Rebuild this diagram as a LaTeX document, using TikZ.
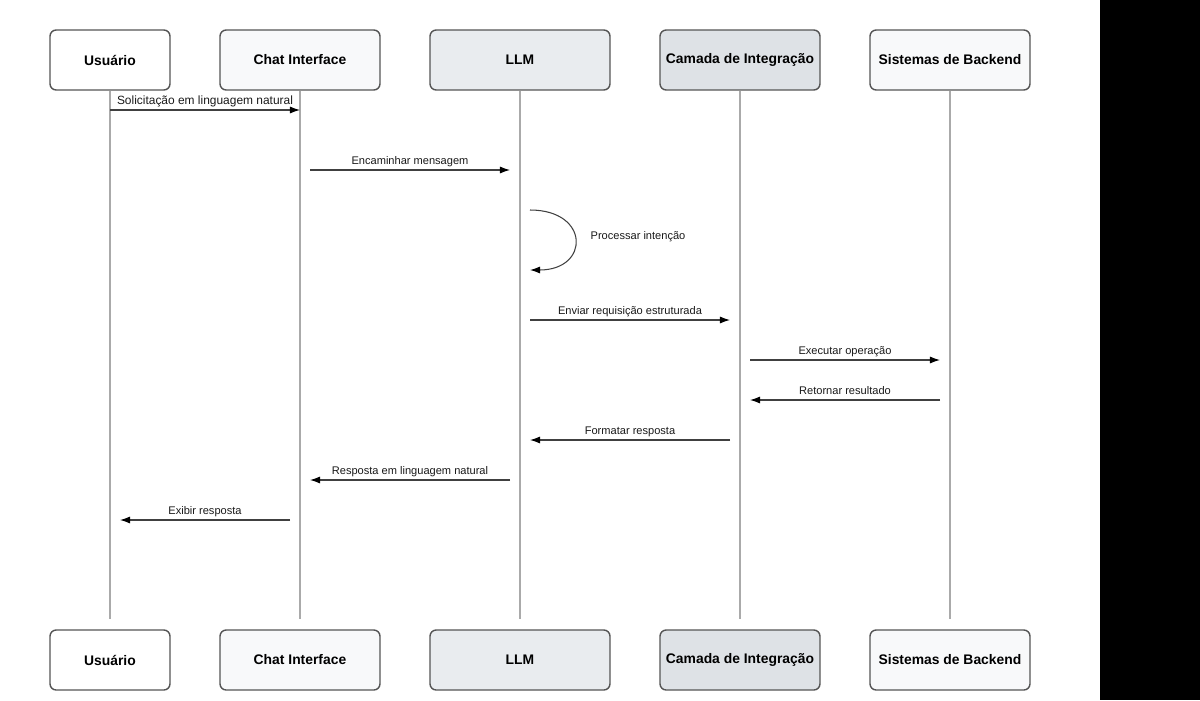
\documentclass[tikz,border=0pt]{standalone}
\usepackage{fontspec}
\setmainfont{Liberation Sans}
\usetikzlibrary{arrows.meta,calc}

\definecolor{boxA}{HTML}{F8F9FA}
\definecolor{boxB}{HTML}{E9ECEF}
\definecolor{boxC}{HTML}{DEE2E6}
\definecolor{edge}{HTML}{555555}
\definecolor{lifegray}{HTML}{AAAAAA}

\tikzset{
  actor/.style={draw=edge, line width=0.8pt, rounded corners=3.5pt,
    minimum height=1.2cm, font=\bfseries\fontsize{7.9}{9}\selectfont},
  life/.style={draw=lifegray, line width=0.8pt, shorten >=5.7pt},
  msg/.style={draw=black!75, line width=0.6pt, -{Latex[length=5.7pt,width=4pt,color=black]}},
  lbl/.style={font=\fontsize{6.3}{7}\selectfont, above, inner sep=1.3pt, text depth=1.4pt, text=black!90}
}

\begin{document}
\begin{tikzpicture}[x=0.02cm, y=-0.02cm]
  \useasboundingbox (0,0) rectangle (1200,700);
  \fill[black] (1100,0) rectangle (1200,700);

  % participants (top)
  \node[actor, minimum width=2.4cm, fill=white] (usr) at (110,60) {Usuário};
  \node[actor, minimum width=3.2cm, fill=boxA] (chat) at (300,60) {Chat Interface};
  \node[actor, minimum width=3.6cm, fill=boxB] (llm) at (520,60) {LLM};
  \node[actor, minimum width=3.2cm, fill=boxC] (integ) at (740,60) {Camada de Integração};
  \node[actor, minimum width=3.2cm, fill=boxA] (back) at (950,60) {Sistemas de Backend};

  % participants (bottom)
  \node[actor, minimum width=2.4cm, fill=white] (usrB) at (110,660) {Usuário};
  \node[actor, minimum width=3.2cm, fill=boxA] (chatB) at (300,660) {Chat Interface};
  \node[actor, minimum width=3.6cm, fill=boxB] (llmB) at (520,660) {LLM};
  \node[actor, minimum width=3.2cm, fill=boxC] (integB) at (740,660) {Camada de Integração};
  \node[actor, minimum width=3.2cm, fill=boxA] (backB) at (950,660) {Sistemas de Backend};

  % lifelines
  \draw[life] (usr) -- (usrB);
  \draw[life] (chat) -- (chatB);
  \draw[life] (llm) -- (llmB);
  \draw[life] (integ) -- (integB);
  \draw[life] (back) -- (backB);

  % messages
  \draw[msg] (usr.south |- 0,110) -- node[lbl, font=\fontsize{6.8}{8}\selectfont] {Solicitação em linguagem natural} (chat.south |- 0,110);
  \draw[msg] ($(chat.south |- 0,170)+(10,0)$) -- node[lbl] {Encaminhar mensagem} ($(llm.south |- 0,170)+(-10,0)$);

  \draw[msg] ($(llm.south |- 0,210)+(10,0)$) .. controls (590,210) and (590,270) .. ($(llm.south |- 0,270)+(10,0)$);
  \node[lbl, anchor=west] (proc) at (588,237) {Processar intenção};

  \draw[msg] ($(llm.south |- 0,320)+(10,0)$) -- node[lbl] {Enviar requisição estruturada} ($(integ.south |- 0,320)+(-10,0)$);
  \draw[msg] ($(integ.south |- 0,360)+(10,0)$) -- node[lbl] {Executar operação} ($(back.south |- 0,360)+(-10,0)$);
  \draw[msg] ($(back.south |- 0,400)+(-10,0)$) -- node[lbl] {Retornar resultado} ($(integ.south |- 0,400)+(10,0)$);
  \draw[msg] ($(integ.south |- 0,440)+(-10,0)$) -- node[lbl] {Formatar resposta} ($(llm.south |- 0,440)+(10,0)$);
  \draw[msg] ($(llm.south |- 0,480)+(-10,0)$) -- node[lbl] {Resposta em linguagem natural} ($(chat.south |- 0,480)+(10,0)$);
  \draw[msg] ($(chat.south |- 0,520)+(-10,0)$) -- node[lbl] {Exibir resposta} ($(usr.south |- 0,520)+(10,0)$);
\end{tikzpicture}
\end{document}
